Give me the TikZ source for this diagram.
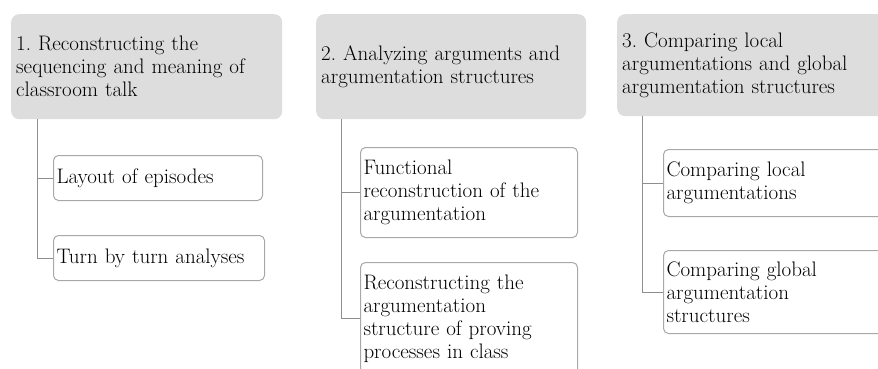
\documentclass[tikz,border=0pt]{standalone}
\usepackage{fontspec}
\frenchspacing
\begin{document}
\begin{tikzpicture}[x=1pt,y=-1pt,
  every node/.style={font=\rmfamily\fontsize{21}{23}\selectfont, align=left, anchor=north west},
  head/.style={fill=headgray, draw=none, rounded corners=8pt, inner xsep=5pt, inner ysep=0pt},
  sub/.style={fill=white, draw=subedge, line width=1pt, rounded corners=5pt, inner xsep=3pt, inner ysep=0pt},
  link/.style={draw=linkgray, line width=1pt}]
\definecolor{headgray}{HTML}{DDDDDD}
\definecolor{subedge}{HTML}{A8A8A8}
\definecolor{linkgray}{HTML}{8E8E8E}
\useasboundingbox (0,0) rectangle (878,369);
\clip (0,0) rectangle (878,369);

% column headers
\node[head, text width=261pt, minimum height=105pt] (h1) at (11,14)
  {1. Reconstructing the\\sequencing and meaning of\\classroom talk};
\node[head, text width=260pt, minimum height=105pt] (h2) at (316,14)
  {2. Analyzing arguments and\\argumentation structures};
\node[head, text width=280pt, minimum height=102pt] (h3) at (617,14)
  {3. Comparing local\\argumentations and global\\argumentation structures};

% sub-steps
\node[sub, text width=203pt, minimum height=45pt] (c11) at (53,155) {Layout of episodes};
\node[sub, text width=205pt, minimum height=45pt] (c12) at (53,235) {Turn by turn analyses};
\node[sub, text width=211pt, minimum height=90pt] (c21) at (360,147)
  {Functional\\reconstruction of the\\argumentation};
\node[sub, text width=211pt, minimum height=112pt] (c22) at (360,262)
  {Reconstructing the\\argumentation\\structure of proving\\processes in class};
\node[sub, text width=240pt, minimum height=67pt] (c31) at (663,149)
  {Comparing local\\argumentations};
\node[sub, text width=240pt, minimum height=83pt] (c32) at (663,250)
  {Comparing global\\argumentation\\structures};

% tree connectors
\coordinate (s1) at ([xshift=26pt]h1.south west);
\coordinate (s2) at ([xshift=25pt]h2.south west);
\coordinate (s3) at ([xshift=25pt]h3.south west);
\draw[link] (s1) |- (c11.west);
\draw[link] (s1) |- (c12.west);
\draw[link] (s2) |- (c21.west);
\draw[link] (s2) |- (c22.west);
\draw[link] (s3) |- (c31.west);
\draw[link] (s3) |- (c32.west);
\end{tikzpicture}
\end{document}
